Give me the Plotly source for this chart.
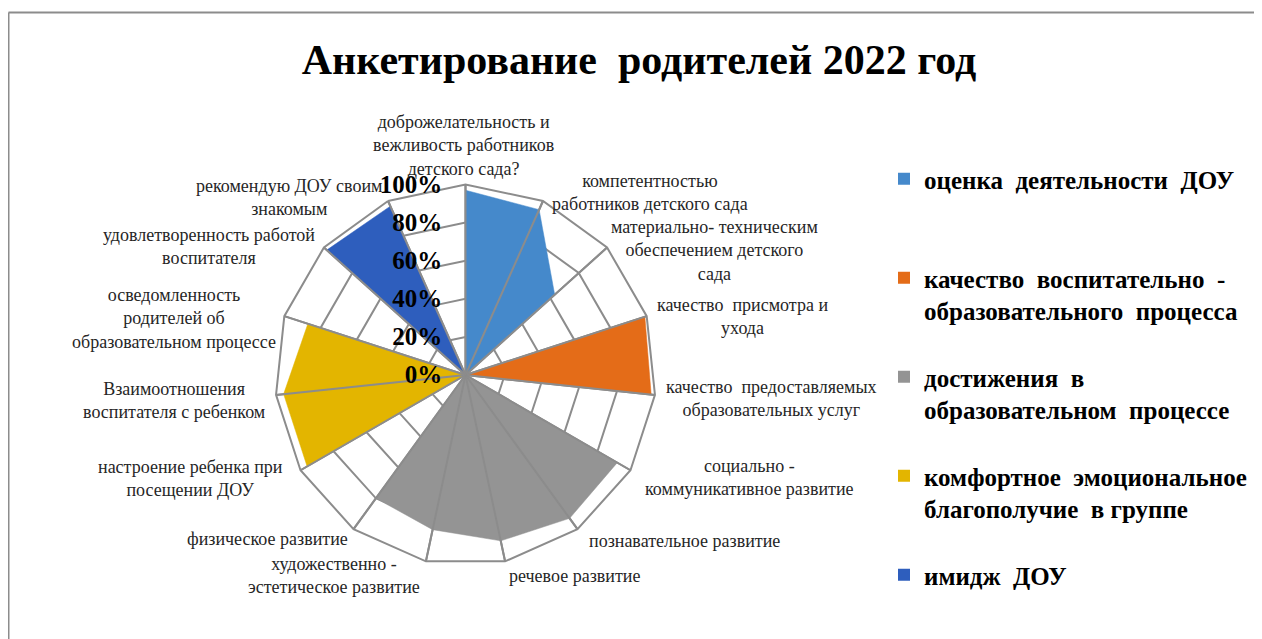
import plotly.graph_objects as go

# ---------------- data ----------------
categories = [
    "доброжелательность и вежливость работников детского сада?",
    "компетентностью работников детского сада",
    "материально- техническим обеспечением детского сада",
    "качество присмотра и ухода",
    "качество предоставляемых образовательных услуг",
    "социально - коммуникативное развитие",
    "познавательное развитие",
    "речевое развитие",
    "художественно - эстетическое развитие",
    "физическое развитие",
    "настроение ребенка при посещении ДОУ",
    "Взаимоотношения воспитателя с ребенком",
    "осведомленность родителей об образовательном процессе",
    "удовлетворенность работой воспитателя",
    "рекомендую ДОУ своим знакомым",
]
tick_labels = [
    "доброжелательность и<br>вежливость работников<br>детского сада?",
    "компетентностью<br>работников детского сада",
    "материально- техническим<br>обеспечением детского<br>сада",
    "качество  присмотра и<br>ухода",
    "качество  предоставляемых<br>образовательных услуг",
    "социально -<br>коммуникативное развитие",
    "познавательное развитие",
    "речевое развитие",
    "художественно -<br>эстетическое развитие",
    "физическое развитие",
    "настроение ребенка при<br>посещении ДОУ",
    "Взаимоотношения<br>воспитателя с ребенком",
    "осведомленность<br>родителей об<br>образовательном процессе",
    "удовлетворенность работой<br>воспитателя",
    "рекомендую ДОУ своим<br>знакомым",
]

series_names = [
    "оценка  деятельности  ДОУ",
    "качество  воспитательно  -<br>образовательного  процесса",
    "достижения  в<br>образовательном  процессе",
    "комфортное  эмоциональное<br>благополучие  в группе",
    "имидж  ДОУ",
]
ocenka_dou      = [97, 95, 63, 0, 0, 0, 0, 0, 0, 0, 0, 0, 0, 0, 0]
kachestvo_vop   = [0, 0, 0, 99, 98, 0, 0, 0, 0, 0, 0, 0, 0, 0, 0]
dostizheniya    = [0, 0, 0, 0, 0, 92, 93, 89, 83, 80, 0, 0, 0, 0, 0]
komfort         = [0, 0, 0, 0, 0, 0, 0, 0, 0, 0, 96, 96, 87, 0, 0]
imidzh_dou      = [0, 0, 0, 0, 0, 0, 0, 0, 0, 0, 0, 0, 0, 98, 97]
series_values = [ocenka_dou, kachestvo_vop, dostizheniya, komfort, imidzh_dou]
series_colors = ["#4589CB", "#E46C18", "#949494", "#E3B500", "#2E5EBD"]

radial_ticks = [0, 20, 40, 60, 80, 100]
radial_tick_labels = ["0%", "20%", "40%", "60%", "80%", "100%"]

# ---------------- layout constants ----------------
W, H = 1262, 639
OFF = 8  # page body margin offsets the figure by 8px right and down
GRID = "#8C8C8C"
SERIF = "Liberation Serif, Times New Roman, serif"
cx, cy, R = 465.5 - OFF, 375.0 - OFF, 190.5

# category label block centres (screen pixels), placed like the original chart
label_pos = [
    (463, 145), (650, 193), (714, 251), (742, 316), (771, 399),
    (749, 477), (684, 541), (574, 576), (334, 575), (267, 539),
    (190, 478), (174, 400), (174, 318), (209, 246), (289, 197),
]

fig = go.Figure()

for name, vals, col in zip(series_names, series_values, series_colors):
    fig.add_trace(go.Scatterpolar(
        r=vals, theta=categories, mode="lines", fill="toself",
        fillcolor=col, line=dict(color=col, width=0.5),
        name=name, showlegend=False, hoverinfo="skip",
    ))

# spokes drawn above the filled areas (as in the original)
sr, st = [], []
for c in categories:
    sr += [radial_ticks[0], radial_ticks[-1], None]
    st += [c, c, c]
fig.add_trace(go.Scatterpolar(
    r=sr, theta=st, mode="lines", line=dict(color=GRID, width=2),
    showlegend=False, hoverinfo="skip", connectgaps=False,
))

# legend entries (square markers)
for i, (name, col) in enumerate(zip(series_names, series_colors)):
    label = name if ("<br>" in name or i == len(series_names) - 1) else name + "<br>\u00a0"
    fig.add_trace(go.Scatterpolar(
        r=[None], theta=[categories[0]], mode="markers",
        marker=dict(symbol="square", size=15, color=col),
        name=label, legendgroup=f"g{i}", showlegend=True,
    ))

annotations = []
for txt, (px, py) in zip(tick_labels, label_pos):
    annotations.append(dict(
        text=txt, xref="paper", yref="paper",
        x=(px - OFF) / W, y=1 - (py - OFF) / H,
        xanchor="center", yanchor="middle", align="center", showarrow=False,
        font=dict(family=SERIF, size=18, color="#262626"),
    ))

fig.update_layout(
    width=W, height=H,
    margin=dict(l=0, r=0, t=0, b=0, autoexpand=False),
    paper_bgcolor="white",
    plot_bgcolor="white",
    title=dict(
        text="<b>Анкетирование  родителей 2022 год</b>",
        x=(639 - OFF) / W, xanchor="center", y=1 - (59 - OFF) / H, yanchor="middle",
        font=dict(family=SERIF, size=42, color="black"),
    ),
    polar=dict(
        domain=dict(x=[(cx - R) / W, (cx + R) / W],
                    y=[(H - cy - R) / H, (H - cy + R) / H]),
        gridshape="linear",
        bgcolor="white",
        angularaxis=dict(
            type="category",
            categoryorder="array", categoryarray=categories,
            rotation=90, direction="clockwise",
            showline=True, linecolor=GRID, linewidth=2,
            showgrid=True, gridcolor=GRID, gridwidth=2,
            ticks="", showticklabels=False,
        ),
        radialaxis=dict(
            range=[0, 100], tickvals=radial_ticks, ticktext=radial_tick_labels,
            angle=90, side="counterclockwise", tickangle=90,
            showline=False, showgrid=True, gridcolor=GRID, gridwidth=2,
            ticks="outside", ticklen=14, tickcolor="rgba(0,0,0,0)",
            tickfont=dict(family=SERIF, size=25, color="black", weight="bold"),
            layer="above traces",
        ),
    ),
    legend=dict(
        x=(884 - OFF) / W, xanchor="left", y=1 - (156 - OFF) / H, yanchor="top",
        font=dict(family=SERIF, size=25, color="black", weight="bold"),
        valign="top", tracegroupgap=31, itemsizing="constant",
        bgcolor="rgba(0,0,0,0)",
    ),
    annotations=annotations,
    shapes=[
        dict(type="line", xref="paper", yref="paper",
             x0=(8.5 - OFF) / W, x1=1.0, y0=1 - (12.5 - OFF) / H, y1=1 - (12.5 - OFF) / H,
             line=dict(color=GRID, width=2)),
        dict(type="line", xref="paper", yref="paper",
             x0=(8.5 - OFF) / W, x1=(8.5 - OFF) / W, y0=1 - (12.5 - OFF) / H, y1=0,
             line=dict(color=GRID, width=2)),
    ],
)

fig.write_html("out.html")
